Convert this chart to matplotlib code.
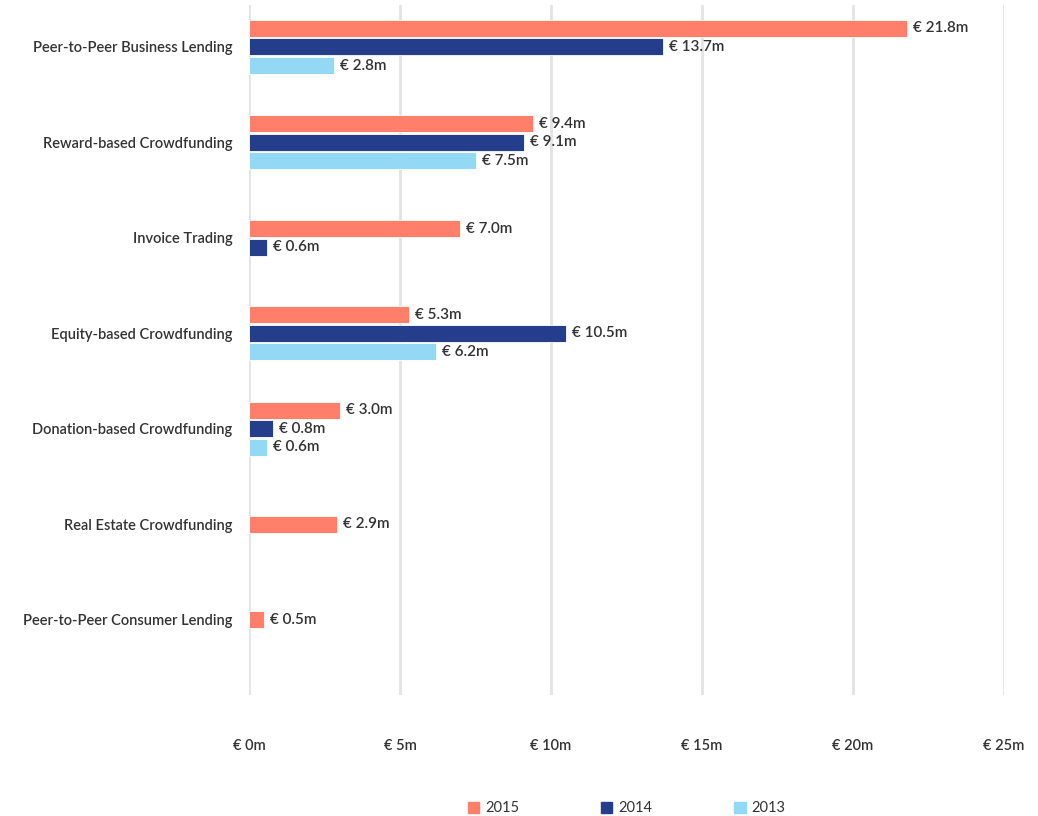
import numpy as np
import matplotlib.pyplot as plt
from matplotlib.patches import Patch

# Данные
categories = ["Peer-to-Peer Business Lending", "Reward-based Crowdfunding", "Invoice Trading",
              "Equity-based Crowdfunding", "Donation-based Crowdfunding",
              "Real Estate Crowdfunding", "Peer-to-Peer Consumer Lending"]
years = ["2015", "2014", "2013"]
v2015 = [21.8, 9.4, 7.0, 5.3, 3.0, 2.9, 0.5]
v2014 = [13.7, 9.1, 0.6, 10.5, 0.8, np.nan, np.nan]
v2013 = [2.8, 7.5, np.nan, 6.2, 0.6, np.nan, np.nan]
xticks = [0, 5, 10, 15, 20, 25]
xtick_labels = ["€ 0m", "€ 5m", "€ 10m", "€ 15m", "€ 20m", "€ 25m"]

colors = ["#FF7F6A", "#253E8C", "#93D8F5"]
text_color = "#333333"
plt.rcParams['font.family'] = ['Lato', 'DejaVu Sans']

fig = plt.figure(figsize=(10.38, 8.16), dpi=100)
ax = fig.add_axes([249 / 1038, 121 / 816, 755 / 1038, 690 / 816])

series = [v2015, v2014, v2013]
bar_h = 0.178
step = 0.194

for i, cat in enumerate(categories):
    # только присутствующие столбцы, центрированные вокруг категории
    present = [(k, s[i]) for k, s in enumerate(series) if not np.isnan(s[i])]
    n = len(present)
    for j, (k, val) in enumerate(present):
        y = i + (j - (n - 1) / 2) * step
        ax.barh(y, val, height=bar_h, color=colors[k], edgecolor="white", linewidth=0.6, zorder=3)
        ax.text(val + 0.2, y, f"€ {val:.1f}m", va="center", ha="left",
                fontsize=11, color=text_color, fontweight="semibold", zorder=4)

ax.set_yticks(range(len(categories)))
ax.set_yticklabels(categories, fontsize=10.5, color=text_color, fontweight="semibold")
ax.set_xticks(xticks)
ax.set_xticklabels(xtick_labels, fontsize=10.5, color=text_color, fontweight="semibold")
ax.set_xlim(0, 25)
ax.set_ylim(6.79, -0.44)
ax.tick_params(axis="both", length=0)
ax.tick_params(axis="x", pad=32)
ax.tick_params(axis="y", pad=12)
ax.grid(axis="x", color="#e3e3e3", linewidth=2, zorder=0)
for sp in ax.spines.values():
    sp.set_visible(False)

handles = [Patch(color=c, label=y) for c, y in zip(colors, years)]
ax.legend(handles=handles, loc="upper center", bbox_to_anchor=(0.5, -0.135), ncol=3,
          frameon=False, fontsize=10.5, handlelength=0.8, handleheight=0.8,
          handletextpad=0.4, columnspacing=5.6, labelcolor=text_color)

plt.savefig("out.png")
